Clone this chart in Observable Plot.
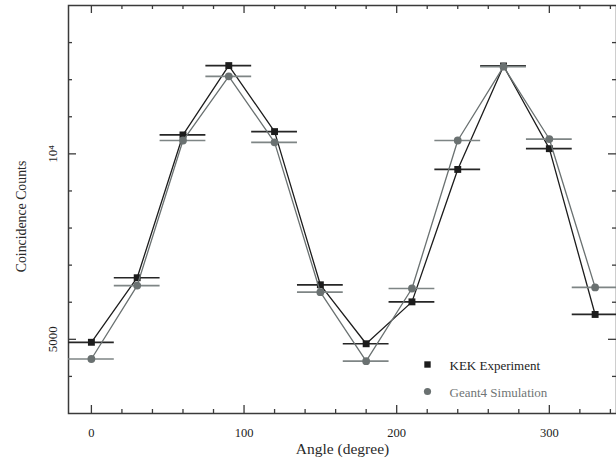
<!DOCTYPE html>
<html><head><meta charset="utf-8">
<script src="https://cdn.jsdelivr.net/npm/d3@7"></script>
<script src="https://cdn.jsdelivr.net/npm/@observablehq/plot@0.6"></script>
<style>body{margin:0;background:#fff;} svg{display:block;} svg text{font-family:'Liberation Serif','Times New Roman',serif;}</style>
</head><body><div id="chart"></div>
<script>
const angles = [0, 30, 60, 90, 120, 150, 180, 210, 240, 270, 300, 330];
const kekCounts = [4920, 6660, 10510, 12380, 10600, 6470, 4880, 6010, 9580, 12370, 10140, 5670];
const geantCounts = [4470, 6450, 10360, 12090, 10310, 6270, 4410, 6370, 10360, 12350, 10400, 6400];
const angleHalfWidth = 15;
const seriesNames = ["KEK Experiment", "Geant4 Simulation"];
const xMajorTicks = [0, 100, 200, 300];
const xMinorTicks = [20, 40, 60, 80, 120, 140, 160, 180, 220, 240, 260, 280, 320, 340];
const xTickLabels = ["0", "100", "200", "300"];
const yMajorTicks = [5000, 10000];
const yMinorTicks = [4000, 6000, 7000, 8000, 9000, 11000, 12000, 13000];
const yTickLabels = ["5000", "10⁴"];
const xTitle = "Angle (degree)";
const yTitle = "Coincidence Counts";

const kek = angles.map((a, i) => ({angle: a, count: kekCounts[i]}));
const geant = angles.map((a, i) => ({angle: a, count: geantCounts[i]}));
const xLab = xMajorTicks.map((v, i) => ({v, t: xTickLabels[i]}));
const yLab = yMajorTicks.map((v, i) => ({v, t: yTickLabels[i]}));

const W = 616, H = 458, mL = 68, mR = 0, mT = 5, mB = 45;
const fw = W - mL - mR, fh = H - mT - mB;
const kekCol = "#1c1c1c", kekBar = "#262626";
const geCol = "#6a7171", geBar = "#7e8585";
const frameCol = "#3a3a3a";
const serif = "'Liberation Serif', 'Times New Roman', serif";

const chart = Plot.plot({
  width: W, height: H,
  marginLeft: mL, marginRight: mR, marginTop: mT, marginBottom: mB,
  style: {fontFamily: serif, background: "#fff", color: "#222"},
  x: {domain: [-15, 344], axis: null},
  y: {domain: [3000, 14000], axis: null},
  marks: [
    // ticks (inward) on all four sides
    Plot.tickX(xMajorTicks, {x: d => d, insetTop: fh - 8, stroke: frameCol, strokeWidth: 1.3}),
    Plot.tickX(xMajorTicks, {x: d => d, insetBottom: fh - 8, stroke: frameCol, strokeWidth: 1.3}),
    Plot.tickX(xMinorTicks, {x: d => d, insetTop: fh - 4, stroke: frameCol, strokeWidth: 1.3}),
    Plot.tickX(xMinorTicks, {x: d => d, insetBottom: fh - 4, stroke: frameCol, strokeWidth: 1.3}),
    Plot.tickY(yMajorTicks, {y: d => d, insetRight: fw - 8, stroke: frameCol, strokeWidth: 1.3}),
    Plot.tickY(yMajorTicks, {y: d => d, insetLeft: fw - 8, stroke: frameCol, strokeWidth: 1.3}),
    Plot.tickY(yMinorTicks, {y: d => d, insetRight: fw - 4, stroke: frameCol, strokeWidth: 1.3}),
    Plot.tickY(yMinorTicks, {y: d => d, insetLeft: fw - 4, stroke: frameCol, strokeWidth: 1.3}),
    Plot.frame({stroke: frameCol, strokeWidth: 1.5}),
    // tick labels
    Plot.text(xLab, {x: "v", text: "t", frameAnchor: "bottom", dy: 19, lineAnchor: "middle", fontSize: 12.5, fontFamily: serif, fill: "#222"}),
    Plot.text(yLab, {y: "v", text: "t", frameAnchor: "left", dx: -16, rotate: -90, textAnchor: "middle", lineAnchor: "middle", fontSize: 13, fontFamily: serif, fill: "#222"}),
    // axis titles
    Plot.text([xTitle], {frameAnchor: "bottom", dy: 36, lineAnchor: "middle", fontSize: 15.5, fontFamily: serif, fill: "#2a2a2a"}),
    Plot.text([yTitle], {frameAnchor: "left", dx: -47, dy: 7, rotate: -90, textAnchor: "middle", lineAnchor: "middle", fontSize: 13.8, fontFamily: serif, fill: "#2a2a2a"}),
    // KEK
    Plot.line(kek, {x: "angle", y: "count", stroke: kekCol, strokeWidth: 1.3}),
    Plot.ruleY(kek, {y: "count", x1: d => d.angle - angleHalfWidth, x2: d => d.angle + angleHalfWidth, stroke: kekBar, strokeWidth: 1.7}),
    Plot.dot(kek, {x: "angle", y: "count", symbol: "square", r: 3.9, fill: kekCol, stroke: "none"}),
    // Geant4
    Plot.line(geant, {x: "angle", y: "count", stroke: geCol, strokeWidth: 1.3}),
    Plot.ruleY(geant, {y: "count", x1: d => d.angle - angleHalfWidth, x2: d => d.angle + angleHalfWidth, stroke: geBar, strokeWidth: 1.7}),
    Plot.dot(geant, {x: "angle", y: "count", symbol: "circle", r: 3.9, fill: geCol, stroke: "none"}),
    // legend
    Plot.dot([seriesNames[0]], {frameAnchor: "bottom-left", dx: 359, dy: -49, symbol: "square", r: 3.6, fill: kekCol}),
    Plot.dot([seriesNames[1]], {frameAnchor: "bottom-left", dx: 359, dy: -22, symbol: "circle", r: 3.6, fill: geCol}),
    Plot.text([seriesNames[0]], {text: d => d, frameAnchor: "bottom-left", dx: 381, dy: -48, textAnchor: "start", lineAnchor: "middle", fontSize: 13, fontFamily: serif, fill: "#1c1c1c"}),
    Plot.text([seriesNames[1]], {text: d => d, frameAnchor: "bottom-left", dx: 381, dy: -21, textAnchor: "start", lineAnchor: "middle", fontSize: 13, fontFamily: serif, fill: "#6f7575"})
  ]
});
document.getElementById("chart").appendChild(chart);
</script>
</body></html>
